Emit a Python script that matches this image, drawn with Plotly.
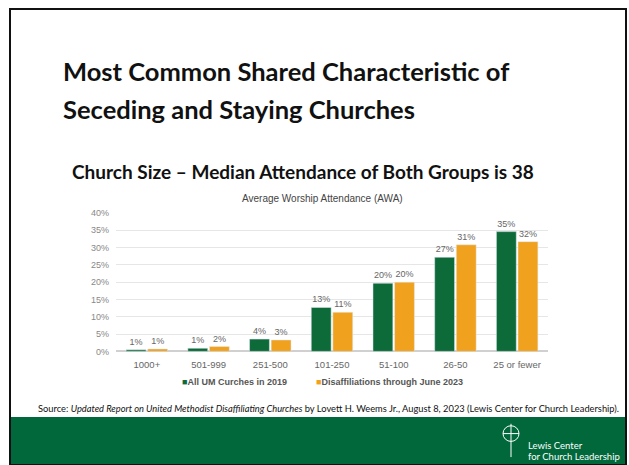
import plotly.graph_objects as go

categories = ["1000+", "501-999", "251-500", "101-250", "51-100", "26-50", "25 or fewer"]
um_2019 = [0.45, 0.9, 3.55, 12.7, 19.7, 27.2, 34.6]
disaff_2023 = [0.7, 1.4, 3.3, 11.3, 20.0, 30.8, 31.7]
um_labels = ["1%", "1%", "4%", "13%", "20%", "27%", "35%"]
disaff_labels = ["1%", "2%", "3%", "11%", "20%", "31%", "32%"]
y_ticks = [0, 5, 10, 15, 20, 25, 30, 35, 40]
series_names = ["All UM Curches in 2019", "Disaffiliations through June 2023"]

W, H = 629, 465
GREEN = "#0d6b3a"
ORANGE = "#f0a11e"
FOOT = "#00683a"

def px(x):
    return x / W

def py(y):
    return 1 - y / H

fig = go.Figure()
fig.add_trace(go.Bar(
    x=categories, y=um_2019, name=series_names[0],
    marker_color=GREEN, text=um_labels, textposition="outside",
    textfont=dict(color="#666666", size=9, family="Liberation Sans"),
    cliponaxis=False, showlegend=False,
))
fig.add_trace(go.Bar(
    x=categories, y=disaff_2023, name=series_names[1],
    marker_color=ORANGE, text=disaff_labels, textposition="outside",
    textfont=dict(color="#666666", size=9, family="Liberation Sans"),
    cliponaxis=False, showlegend=False,
))

fig.update_layout(
    width=W, height=H,
    margin=dict(l=0, r=0, t=0, b=0),
    paper_bgcolor="white", plot_bgcolor="white",
    barmode="group", bargap=0.3, bargroupgap=0.08,
    font=dict(family="Liberation Sans", color="#555555"),
    xaxis=dict(
        domain=[px(116), px(548)],
        tickfont=dict(size=9.5, color="#666666"),
        showline=False, ticks="", showgrid=False,
        ticklabelstandoff=6,
    ),
    yaxis=dict(
        domain=[py(354), py(212.5)],
        range=[0, 40], tickvals=y_ticks,
        ticktext=[f"{v}%" for v in y_ticks],
        tickfont=dict(size=9, color="#888888"),
        showgrid=True, gridcolor="#e6e6e6", gridwidth=1,
        zeroline=True, zerolinecolor="#d0d0d0",
        ticks="", ticklabelstandoff=6,
    ),
)

shapes = [
    dict(type="rect", xref="paper", yref="paper", x0=px(10), x1=px(627), y0=py(470), y1=py(421),
         fillcolor=FOOT, line=dict(width=0), layer="below"),
    dict(type="rect", xref="paper", yref="paper", x0=px(10), x1=px(626), y0=py(470), y1=py(4),
         fillcolor="rgba(0,0,0,0)", line=dict(color="#111111", width=2)),
    # logo
    dict(type="circle", xref="paper", yref="paper", x0=px(503), x1=px(519), y0=py(446), y1=py(430),
         line=dict(color="white", width=1)),
    dict(type="line", xref="paper", yref="paper", x0=px(511), x1=px(511), y0=py(428), y1=py(462),
         line=dict(color="white", width=1)),
    dict(type="line", xref="paper", yref="paper", x0=px(503), x1=px(519), y0=py(438), y1=py(438),
         line=dict(color="white", width=1)),
]
fig.update_layout(shapes=shapes)

legend_font = dict(family="Liberation Sans", size=9, color="#555555")
ann = [
    dict(text="<b>Most Common Shared Characteristic of</b>", x=px(61), y=py(67),
         font=dict(family="Lato", size=25.5, color="#111111")),
    dict(text="<b>Seceding and Staying Churches</b>", x=px(61), y=py(106),
         font=dict(family="Lato", size=25.5, color="#111111")),
    dict(text="<b>Church Size – Median Attendance of Both Groups is 38</b>", x=px(70), y=py(170),
         font=dict(family="Lato", size=19, color="#111111")),
    dict(text="Average Worship Attendance (AWA)", x=px(322), y=py(198), xanchor="center",
         font=dict(family="Liberation Sans", size=10, color="#444444")),
    dict(text=f"<span style='color:{GREEN}'>■</span><b>{series_names[0]}</b>", x=px(180), y=py(385),
         font=legend_font),
    dict(text=f"<span style='color:{ORANGE}'>■</span><b>{series_names[1]}</b>", x=px(314), y=py(385),
         font=legend_font),
    dict(text="Source: <i>Updated Report on United Methodist Disaffiliating Churches</i> by Lovett H. Weems Jr., August 8, 2023 (Lewis Center for Church Leadership).",
         x=px(36), y=py(412), font=dict(family="Lato", size=9.3, color="#111111")),
    dict(text="Lewis Center", x=px(526), y=py(450), font=dict(family="Lato", size=9.5, color="white")),
    dict(text="for Church Leadership", x=px(526), y=py(461), font=dict(family="Lato", size=9.5, color="white")),
]
for a in ann:
    a.setdefault("xanchor", "left")
    fig.add_annotation(xref="paper", yref="paper", yanchor="middle", showarrow=False, **a)

fig.write_html(
    "out.html",
    config={"displayModeBar": False},
    post_script="document.body.style.margin='0';document.body.style.overflow='hidden';",
)
